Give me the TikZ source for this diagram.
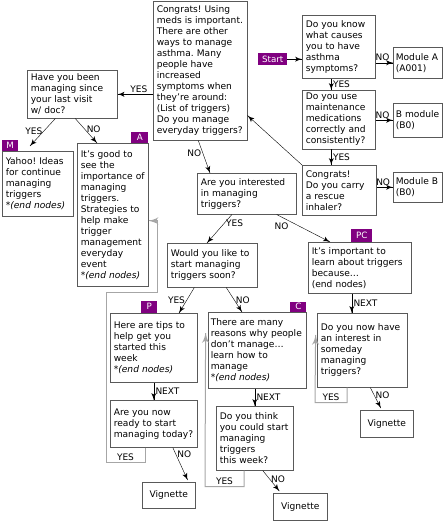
\documentclass[tikz,border=0pt]{standalone}
\usepackage{fontspec}
\usepackage{tikz}
\usetikzlibrary{arrows}
\usetikzlibrary{decorations.markings}
\usetikzlibrary{positioning}
\newfontfamily\chartfont{DejaVu Sans}
\hyphenpenalty=10000
\frenchspacing
\tikzset{->/.style = {decoration={markings,
                                  mark=at position 1 with {\arrow[scale=1.7]{latex'}}},
                      postaction={decorate}}}
\definecolor{mpurple}{rgb}{0.5, 0, 0.5}
\tikzset{box/.style = {draw=black!65, line width=0.6pt, anchor=north west, align=left,
                       inner xsep=3.5pt, inner ysep=3pt,
                       font=\chartfont\fontsize{9.1}{11}\selectfont},
         module/.style = {box, inner xsep=2.5pt, text width=44pt},
         vignette/.style = {draw=black!65, line width=0.6pt, anchor=north west,
                            minimum width=53pt, minimum height=26pt, inner sep=0pt,
                            font=\chartfont\fontsize{9.1}{11}\selectfont},
         badge/.style = {fill=mpurple, text=white, inner sep=0pt,
                         font=\chartfont\fontsize{8.7}{10}\selectfont},
         answer/.style = {inner sep=1.5pt, font=\chartfont\fontsize{9}{10}\selectfont},
         loopline/.style = {draw=black!35, line width=1pt}}

\begin{document}
\begin{tikzpicture}[x=1pt, y=-1pt]
    \useasboundingbox (0, 0) rectangle (443, 521);

    \node [box, text width=87pt, minimum height=139pt] (manage) at (153, 1)
        {Congrats! Using\\ meds is important.\\ There are other\\ ways to manage\\
         asthma. Many\\ people have\\ increased\\ symptoms when\\ they’re around:\\
         (List of triggers)\\ Do you manage\\ everyday triggers?};
    \node [badge, anchor=north west, minimum width=29pt, minimum height=12pt] (start) at (258, 53) {Start};
    \node [box, text width=66pt, minimum height=63pt] (know) at (302, 15)
        {Do you know\\ what causes\\ you to have\\ asthma\\ symptoms?};
    \node [module, minimum height=31pt] (modA) at (393, 47) {Module A\\ (A001)};
    \node [box, text width=66pt, minimum height=57pt] (meds) at (302, 90)
        {Do you use\\ maintenance\\ medications\\ correctly and\\ consistently?};
    \node [module, minimum height=34pt] (modBm) at (393, 103) {B module\\ (B0)};
    \node [box, text width=67pt, minimum height=50pt] (rescue) at (302, 165)
        {Congrats!\\ Do you carry\\ a rescue\\ inhaler?};
    \node [module, minimum height=30pt] (modB) at (393, 172) {Module B\\ (B0)};

    \node [box, text width=83pt, minimum height=48pt] (since) at (27, 70)
        {Have you been\\ managing since\\ your last visit\\ w/ doc?};
    \node [box, text width=64pt, minimum height=65pt] (yahoo) at (2, 151)
        {Yahoo! Ideas\\ for continue\\ managing\\ triggers\\ \textit{*(end nodes)}};
    \node [badge, minimum width=16pt, minimum height=11pt, above right=0pt and 0pt of yahoo.north west] (badgeM) {M};
    \node [box, text width=64pt, minimum height=143pt] (goodto) at (77, 143)
        {It’s good to\\ see the\\ importance of\\ managing\\ triggers.\\ Strategies to\\
         help make\\ trigger\\ management\\ everyday\\ event\\ \textit{*(end nodes)}};
    \node [badge, minimum width=17pt, minimum height=11pt, above left=0pt and 0pt of goodto.north east] (badgeA) {A};

    \node [box, text width=92pt, minimum height=41pt] (interest) at (197, 173)
        {Are you interested\\ in managing\\ triggers?};
    \node [box, text width=83pt, minimum height=44pt] (soon) at (167, 243)
        {Would you like to\\ start managing\\ triggers soon?};
    \node [box, text width=96pt, minimum height=51pt] (important) at (308, 242)
        {It’s important to\\ learn about triggers\\ because…\\ (end nodes)};
    \node [badge, minimum width=21pt, minimum height=13pt, above right=0pt and 43pt of important.north west] (badgePC) {PC};

    \node [box, text width=80pt, minimum height=69pt] (tips) at (110, 313)
        {Here are tips to\\ help get you\\ started this\\ week\\ \textit{*(end nodes)}};
    \node [badge, minimum width=16pt, minimum height=12pt, above right=0pt and 31pt of tips.north west] (badgeP) {P};
    \node [box, inner xsep=2.5pt, text width=93pt, minimum height=76pt] (reasons) at (208, 312)
        {There are many\\ reasons why people\\ don’t manage…\\ learn how to\\ manage\\ \textit{*(end nodes)}};
    \node [badge, minimum width=16pt, minimum height=10pt, above left=0pt and 0pt of reasons.north east] (badgeC) {C};
    \node [box, text width=83pt, minimum height=74pt] (someday) at (317, 313)
        {Do you now have\\ an interest in\\ someday\\ managing\\ triggers?};

    \node [box, text width=80pt, minimum height=47pt] (ready) at (110, 400)
        {Are you now\\ ready to start\\ managing today?};
    \node [box, text width=70pt, minimum height=64pt] (thisweek) at (216, 406)
        {Do you think\\ you could start\\ managing\\ triggers\\ this week?};
    \node [vignette] (vigA) at (142, 482) {Vignette};
    \node [vignette, minimum width=54pt, minimum height=27pt] (vigB) at (273, 493) {Vignette};
    \node [vignette, minimum height=27pt] (vigC) at (360, 410) {Vignette};

    \draw [->] (start) -- (start -| know.west);
    \draw [->] (know.east |- modA) -- (modA.west) node [answer, pos=0.4, above] {NO};
    \draw [->] ([xshift=-7.5pt]know.south) -- ([xshift=-7.5pt]know.south |- meds.north)
        node [answer, pos=0.5, right] {YES};
    \draw [->] (meds.east |- modBm) -- (modBm.west) node [answer, pos=0.4, above] {NO};
    \draw [->] ([xshift=-7.5pt]meds.south) -- ([xshift=-7.5pt]meds.south |- rescue.north)
        node [answer, pos=0.5, right] {YES};
    \draw [->] (rescue.east |- modB) -- (modB.west) node [answer, pos=0.4, above] {NO};
    \draw [->] (rescue.north west) -- ([yshift=25pt]manage.south east);

    \draw [->] (manage.west |- since.east) -- (since.east) node [answer, pos=0.4, above] {YES};
    \draw [->] ([xshift=-2pt]manage.south) -- ([xshift=13pt]interest.north west)
        node [answer, pos=0.4, left] {NO};
    \draw [->] ([xshift=-17pt]since.south) -- ([xshift=28pt, yshift=5pt]yahoo.north west)
        node [answer, pos=0.45, left] {YES};
    \draw [->] ([xshift=3pt]since.south) -- ([xshift=20pt]goodto.north west)
        node [answer, pos=0.45, right] {NO};

    \draw [->] ([xshift=-15pt]interest.south) -- ([xshift=40pt]soon.north west)
        node [answer, pos=0.3, right] {YES};
    \draw [->] ([xshift=30pt]interest.south) -- ([xshift=22pt]important.north west)
        node [answer, pos=0.25, below left] {NO};
    \draw [->] ([xshift=-18pt]soon.south) -- ([xshift=69pt]tips.north west)
        node [answer, pos=0.5, left] {YES};
    \draw [->] ([xshift=14pt]soon.south) -- ([xshift=34pt]reasons.north west)
        node [answer, pos=0.5, right] {NO};

    \draw [->] (tips.south) -- (tips.south |- ready.north) node [answer, pos=0.5, right] {NEXT};
    \draw [->] (thisweek.north |- reasons.south) -- (thisweek.north) node [answer, pos=0.5, right] {NEXT};
    \draw [->] ([xshift=-8pt]important.south) -- ([xshift=-8pt]important.south |- someday.north)
        node [answer, pos=0.5, right] {NEXT};

    \draw [->] ([xshift=19pt]ready.south) -- ([xshift=-8pt, yshift=2pt]vigA.north east)
        node [answer, pos=0.2, right] {NO};
    \draw [->] ([xshift=8pt]thisweek.south) -- ([xshift=-21pt, yshift=2pt]vigB.north)
        node [answer, pos=0.4, right] {NO};
    \draw [->] ([xshift=8pt]someday.south) -- ([xshift=-6pt, yshift=2pt]vigC.north)
        node [answer, pos=0.35, right] {NO};

    \draw [loopline, ->] ([xshift=35pt]ready.south west) |- ++(-39, 15)
        node [answer, pos=0.75, above] {YES} |- ++(51, -170) |- ([yshift=-6pt]goodto.east);
    \draw [loopline, ->] ([xshift=28pt]thisweek.south west) |- ++(-39, 16)
        node [answer, pos=0.75, above] {YES} -- ([xshift=8pt, yshift=-20pt]tips.north east);
    \draw [loopline, ->] ([xshift=30pt]someday.south west) |- ++(-32, 15)
        node [answer, pos=0.75, above] {YES} -- ([xshift=9pt, yshift=-23pt]reasons.north east);
\end{tikzpicture}
\end{document}
